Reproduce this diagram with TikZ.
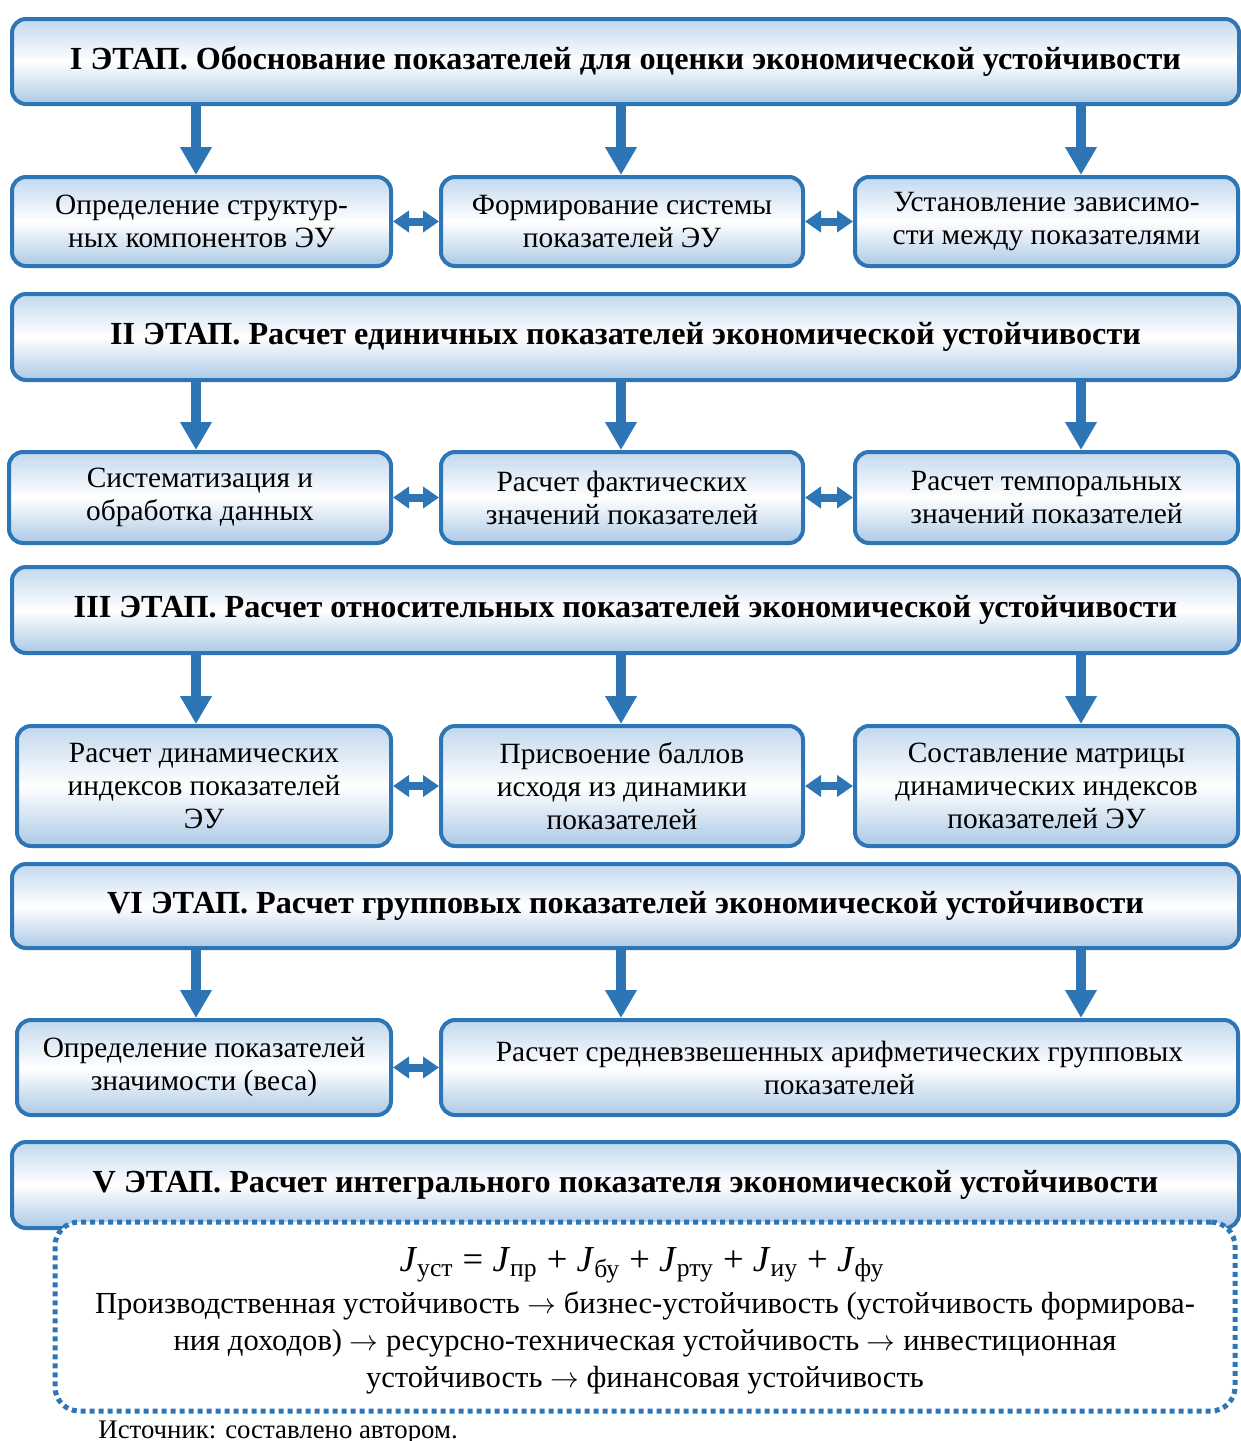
\documentclass[tikz,border=0pt]{standalone}
\usepackage{fontspec}
\setmainfont{Liberation Serif}
\usetikzlibrary{arrows.meta}
\definecolor{ramka}{HTML}{2E75B6}
\definecolor{zalivka}{HTML}{C2D8EE}
\begin{document}
\begin{tikzpicture}[x=0.5pt,y=-0.5pt,
    etap/.style={draw=ramka,line width=2pt,rounded corners=7pt,
      top color=zalivka,bottom color=zalivka!85!ramka,middle color=white,
      minimum width=613.5pt,inner sep=0pt,
      font=\fontsize{16.1}{19}\selectfont\bfseries},
    blok/.style={draw=ramka,line width=2pt,rounded corners=7pt,
      top color=zalivka,bottom color=zalivka!85!ramka,middle color=white,
      inner sep=0pt,align=center,
      font=\fontsize{14.7}{16.5}\selectfont},
    vniz/.style={ramka,line width=5pt,-{Triangle[width=15pt,length=14pt]}},
    oba/.style={ramka,line width=4pt,
      {Triangle[width=10.5pt,length=8pt]}-{Triangle[width=10.5pt,length=8pt]}},
  ]
  \useasboundingbox (0,0) rectangle (1241,1441);
  \coordinate (k1) at (196,0);
  \coordinate (k2) at (621,0);
  \coordinate (k3) at (1081,0);

  % I
  \node[etap,minimum height=42.5pt] (etap1) at (625.5,61.5)
    {I ЭТАП. Обоснование показателей для оценки экономической устойчивости};
  \node[blok,minimum width=189.5pt,minimum height=44.5pt] (b11) at (201.5,221.5)
    {Определение структур-\\ных компонентов ЭУ};
  \node[blok,minimum width=181pt,minimum height=44.5pt] (b12) at (622,221.5)
    {Формирование системы\\показателей ЭУ};
  \node[blok,minimum width=191.5pt,minimum height=44.5pt] (b13) at (1046.5,221.5)
    {Установление зависимо-\\сти между показателями};

  % II
  \node[etap,minimum height=43pt] (etap2) at (625.5,337)
    {II ЭТАП. Расчет единичных показателей экономической устойчивости};
  \node[blok,minimum width=191pt,minimum height=45.5pt] (b21) at (200,497.5)
    {Систематизация и\\обработка данных};
  \node[blok,minimum width=181pt,minimum height=45.5pt] (b22) at (622,497.5)
    {Расчет фактических\\значений показателей};
  \node[blok,minimum width=191.5pt,minimum height=45.5pt] (b23) at (1046.5,497.5)
    {Расчет темпоральных\\значений показателей};

  % III
  \node[etap,minimum height=43pt] (etap3) at (625.5,610)
    {III ЭТАП. Расчет относительных показателей экономической устойчивости};
  \node[blok,minimum width=187pt,minimum height=60pt] (b31) at (204,786)
    {Расчет динамических\\индексов показателей\\ЭУ};
  \node[blok,minimum width=181pt,minimum height=60pt] (b32) at (622,786)
    {Присвоение баллов\\исходя из динамики\\показателей};
  \node[blok,minimum width=191.5pt,minimum height=60pt] (b33) at (1046.5,786)
    {Составление матрицы\\динамических индексов\\показателей ЭУ};

  % IV
  \node[etap,minimum height=42pt] (etap4) at (625.5,906)
    {VI ЭТАП. Расчет групповых показателей экономической устойчивости};
  \node[blok,minimum width=187pt,minimum height=47.5pt] (b41) at (204,1067.5)
    {Определение показателей\\значимости (веса)};
  \node[blok,minimum width=398.5pt,minimum height=47.5pt] (b42) at (839.5,1067.5)
    {Расчет средневзвешенных арифметических групповых\\показателей};

  % V
  \node[etap,minimum height=43pt] (etap5) at (625.5,1185)
    {V ЭТАП. Расчет интегрального показателя экономической устойчивости};
  \node[draw=ramka,fill=white,line width=2.5pt,dash pattern=on 2.5pt off 2pt,
    rounded corners=12pt,minimum width=590pt,minimum height=94.5pt] (itog) at (645,1316.5) {};
  \node[font=\fontsize{18.3}{21}\selectfont] (formula) at (642,1265)
    {\textit{J}\textsubscript{уст} = \textit{J}\textsubscript{пр} + \textit{J}\textsubscript{бу}
     + \textit{J}\textsubscript{рту} + \textit{J}\textsubscript{иу} + \textit{J}\textsubscript{фу}};
  \node[align=center,font=\fontsize{15.3}{18.5}\selectfont] (tekst) at (645,1343)
    {Производственная устойчивость $\rightarrow$ бизнес-устойчивость (устойчивость формирова-\\
     ния доходов) $\rightarrow$ ресурсно-техническая устойчивость $\rightarrow$ инвестиционная\\
     устойчивость $\rightarrow$ финансовая устойчивость};
  \node[anchor=base west,inner sep=0pt,font=\fontsize{13.4}{15}\selectfont] (istochnik) at (98,1438)
    {Источник: составлено автором.};

  % strelki
  \foreach \e/\b in {etap1/b1,etap2/b2,etap3/b3}{
    \draw[vniz] (k1 |- \e.south) -- (k1 |- \b1.north);
    \draw[vniz] (k2 |- \e.south) -- (k2 |- \b2.north);
    \draw[vniz] (k3 |- \e.south) -- (k3 |- \b3.north);
    \draw[oba] (\b1.east) -- (\b2.west);
    \draw[oba] (\b2.east) -- (\b3.west);
  }
  \draw[vniz] (k1 |- etap4.south) -- (k1 |- b41.north);
  \draw[vniz] (k2 |- etap4.south) -- (k2 |- b42.north);
  \draw[vniz] (k3 |- etap4.south) -- (k3 |- b42.north);
  \draw[oba] (b41.east) -- (b42.west);
\end{tikzpicture}
\end{document}
